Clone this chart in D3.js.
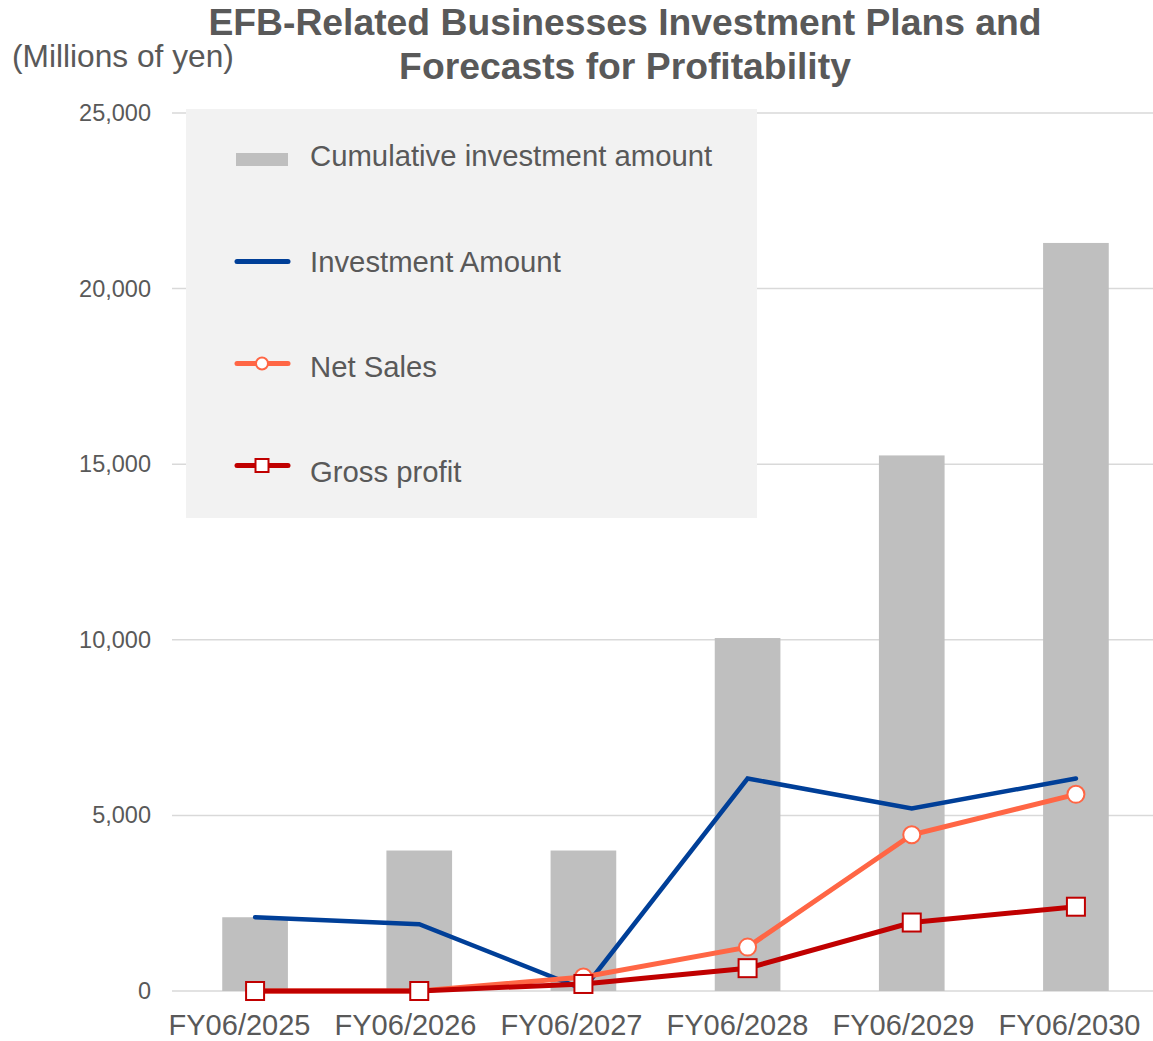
<!DOCTYPE html>
<html>
<head>
<meta charset="utf-8">
<script src="https://cdn.jsdelivr.net/npm/d3@7"></script>
<style>
  body { margin: 0; background: #fff; }
  text { font-family: "Liberation Sans", Arial, sans-serif; fill: #595959; }
</style>
</head>
<body>
<div id="chart"></div>
<script>
var width = 1153;
var height = 1041;

// data
var years = ["FY06/2025", "FY06/2026", "FY06/2027", "FY06/2028", "FY06/2029", "FY06/2030"];
var cumulative = [2100, 4000, 4000, 10050, 15250, 21300];
var investment = [2100, 1900, 50, 6050, 5200, 6050];
var netSales = [0, 0, 400, 1250, 4450, 5600];
var grossProfit = [0, 0, 200, 650, 1950, 2400];
var yTicks = [0, 5000, 10000, 15000, 20000, 25000];
var titleLines = ["EFB-Related Businesses Investment Plans and", "Forecasts for Profitability"];

var svg = d3.select("#chart")
  .append("svg")
  .attr("width", width)
  .attr("height", height);

var x = d3.scalePoint()
  .domain(years)
  .range([173, 1158])
  .padding(0.5);

// category labels sit a little left of the bars in the original
var xLabel = d3.scalePoint()
  .domain(years)
  .range([156, 1152])
  .padding(0.5);

var y = d3.scaleLinear()
  .domain([0, 25000])
  .range([991, 113]);

var barW = x.step() * 0.4;

// gridlines
svg.append("g")
  .selectAll("line")
  .data(yTicks)
  .enter()
  .append("line")
  .attr("x1", 172)
  .attr("x2", width)
  .attr("y1", function(d) { return y(d); })
  .attr("y2", function(d) { return y(d); })
  .attr("stroke", "#d9d9d9")
  .attr("stroke-width", 1.5);

// y axis labels
var yAxis = d3.axisLeft(y)
  .tickValues(yTicks)
  .tickSize(0)
  .tickPadding(0)
  .tickFormat(d3.format(","));

svg.append("g")
  .attr("transform", "translate(151,0)")
  .call(yAxis)
  .call(function(g) { g.select(".domain").remove(); })
  .selectAll("text")
  .attr("font-size", 23.5)
  .attr("fill", "#595959")
  .style("font-family", "'Liberation Sans', Arial, sans-serif");

// x axis labels
var xAxis = d3.axisBottom(xLabel).tickSize(0).tickPadding(0);
svg.append("g")
  .attr("transform", "translate(0,1014)")
  .call(xAxis)
  .call(function(g) { g.select(".domain").remove(); })
  .selectAll("text")
  .attr("font-size", 29)
  .attr("fill", "#595959")
  .style("font-family", "'Liberation Sans', Arial, sans-serif");

// legend box sits over the gridlines
svg.append("rect")
  .attr("x", 186)
  .attr("y", 109)
  .attr("width", 571)
  .attr("height", 409)
  .attr("fill", "#f2f2f2");

// bars
svg.append("g")
  .selectAll("rect")
  .data(cumulative)
  .enter()
  .append("rect")
  .attr("x", function(d, i) { return x(years[i]) - barW / 2; })
  .attr("y", function(d) { return y(d); })
  .attr("width", barW)
  .attr("height", function(d) { return y(0) - y(d); })
  .attr("fill", "#bfbfbf");

var line = d3.line()
  .x(function(d, i) { return x(years[i]); })
  .y(function(d) { return y(d); });

svg.append("path")
  .datum(investment)
  .attr("d", line)
  .attr("fill", "none")
  .attr("stroke", "#003f98")
  .attr("stroke-width", 4.5)
  .attr("stroke-linecap", "round");

svg.append("path")
  .datum(netSales)
  .attr("d", line)
  .attr("fill", "none")
  .attr("stroke", "#ff6645")
  .attr("stroke-width", 5);

svg.append("path")
  .datum(grossProfit)
  .attr("d", line)
  .attr("fill", "none")
  .attr("stroke", "#c00000")
  .attr("stroke-width", 5);

svg.append("g")
  .selectAll("circle")
  .data(netSales)
  .enter()
  .append("circle")
  .attr("cx", function(d, i) { return x(years[i]); })
  .attr("cy", function(d) { return y(d); })
  .attr("r", 8.5)
  .attr("fill", "#fff")
  .attr("stroke", "#ff6645")
  .attr("stroke-width", 2);

svg.append("g")
  .selectAll("rect")
  .data(grossProfit)
  .enter()
  .append("rect")
  .attr("x", function(d, i) { return x(years[i]) - 9; })
  .attr("y", function(d) { return y(d) - 9; })
  .attr("width", 18)
  .attr("height", 18)
  .attr("fill", "#fff")
  .attr("stroke", "#c00000")
  .attr("stroke-width", 2);

// legend
var legendItems = [
  { name: "Cumulative investment amount", type: "bar", color: "#bfbfbf" },
  { name: "Investment Amount", type: "line", color: "#003f98" },
  { name: "Net Sales", type: "circle", color: "#ff6645" },
  { name: "Gross profit", type: "square", color: "#c00000" }
];

var legend = svg.append("g")
  .selectAll("g")
  .data(legendItems)
  .enter()
  .append("g");

legend.each(function(d, i) {
  var g = d3.select(this);
  var sy = 159.5 + i * 102;
  var ty = 156 + i * 105.3;
  if (d.type === "bar") {
    g.append("rect").attr("x", 236).attr("y", sy - 6.5).attr("width", 52).attr("height", 13).attr("fill", d.color);
  } else {
    g.append("line").attr("x1", 237).attr("x2", 288).attr("y1", sy).attr("y2", sy)
      .attr("stroke", d.color).attr("stroke-width", 5).attr("stroke-linecap", "round");
  }
  if (d.type === "circle") {
    g.append("circle").attr("cx", 262).attr("cy", sy).attr("r", 6)
      .attr("fill", "#fff").attr("stroke", d.color).attr("stroke-width", 2);
  }
  if (d.type === "square") {
    g.append("rect").attr("x", 255.5).attr("y", sy - 6.5).attr("width", 13).attr("height", 13)
      .attr("fill", "#fff").attr("stroke", d.color).attr("stroke-width", 2);
  }
  g.append("text")
    .attr("x", 310)
    .attr("y", ty)
    .attr("dy", "0.35em")
    .attr("font-size", 29.3)
    .text(d.name);
});

// titles
svg.append("text")
  .attr("text-anchor", "middle")
  .attr("font-size", 37.3)
  .attr("font-weight", "bold")
  .selectAll("tspan")
  .data(titleLines)
  .enter()
  .append("tspan")
  .attr("x", 625)
  .attr("y", function(d, i) { return 35 + i * 44; })
  .text(function(d) { return d; });

svg.append("text")
  .attr("x", 12)
  .attr("y", 67)
  .attr("font-size", 31.7)
  .text("(Millions of yen)");
</script>
</body>
</html>
